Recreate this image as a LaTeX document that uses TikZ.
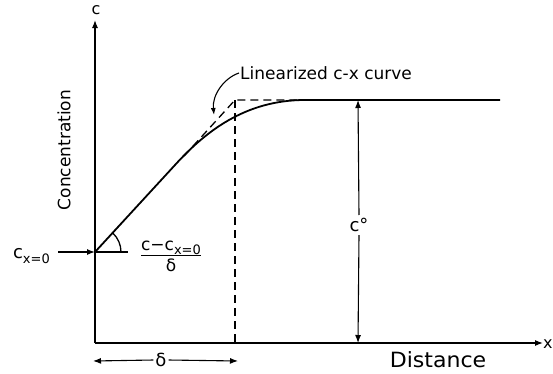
\documentclass[tikz,border=0pt]{standalone}
\usepackage{fontspec}
\setmainfont{DejaVu Sans}
\usetikzlibrary{arrows.meta}
\begin{document}
\begin{tikzpicture}[x=1pt,y=-1pt,
  ln/.style={line width=1.8pt},
  tip/.style={-{Latex[length=8pt,width=6pt]}},
  axis/.style={line width=1.2pt,tip},
  lbl/.style={font=\fontsize{16}{18}\selectfont,inner sep=1pt},
  sub/.style={},
  dsh/.style={line width=1.3pt,dash pattern=on 8pt off 5pt}]
\newcommand{\subxo}{\raisebox{-0.5ex}{\fontsize{13}{14}\selectfont x=0}}
\useasboundingbox (0,0) rectangle (553,373);
\coordinate (O) at (95,343);
\coordinate (ytip) at (95,20);
\coordinate (xtip) at (543,343);
\coordinate (C0) at (95,252);
\coordinate (corner) at (235,100);
\coordinate (cdown) at (235,343);
\coordinate (flatend) at (500,100);
% axes
\draw[axis] (O) -- (ytip);
\draw[axis] (O) -- (xtip);
\node[lbl] (cl) at (96,10) {c};
\node[lbl,anchor=west,inner sep=0pt] (xl) at (543,344) {x};
\node[lbl,rotate=90,font=\fontsize{17}{18}\selectfont] (conc) at (64,150) {Concentration};
\node[lbl,font=\fontsize{21}{22}\selectfont,xscale=1.05] (dist) at (438,360) {Distance};
% c_x=0 arrow
\coordinate (cin) at (58,252);
\draw[line width=1.3pt,tip] (cin) -- (C0);
\node[lbl,anchor=east,font=\fontsize{18}{20}\selectfont] (cx0) at (51,256) {c\subxo};
% concentration curve
\draw[ln] (C0) -- (175,165) .. controls (205,132) and (245,100) .. (305,100) -- (flatend);
% linearized
\draw[dsh] (184,156) -- (corner) -- (300,100);
\draw[dsh] (corner) -- (cdown);
% label linearized
\node[lbl,anchor=west,font=\fontsize{17}{18}\selectfont] (lin) at (239,73) {Linearized c-x curve};
\coordinate (lintip) at (214,115);
\draw[line width=1.1pt,-{Latex[length=7pt,width=5pt]}] (lin.west) .. controls (224,78) and (212,95) .. (lintip);
% angle
\coordinate (hend) at (128,252);
\draw[line width=1.3pt] (C0) -- (hend);
\draw[line width=1.3pt] (121,252) arc[start angle=0,end angle=-47,radius=26];
\node[lbl,font=\fontsize{17}{18}\selectfont] (frac) at (171,257) {$\vcenter{\hbox{\begin{tabular}{@{}c@{}}c−c\subxo\\[-1pt]\hline\rule{0pt}{16pt}δ\end{tabular}}}$};
% c° arrow
\coordinate (ctop) at (358,100);
\coordinate (cbot) at (358,343);
\node[lbl,fill=white,inner sep=3pt,font=\fontsize{18}{20}\selectfont] (cdeg) at (359,225) {c°};
\draw[line width=1.1pt,tip] (cdeg.north) -- (ctop);
\draw[line width=1.1pt,tip] (cdeg.south) -- (cbot);
% delta arrow
\coordinate (dl) at (93,361);
\coordinate (dr) at (238,361);
\node[lbl,fill=white,inner sep=2pt,font=\fontsize{18}{20}\selectfont] (dlt) at (161,360) {δ};
\draw[line width=1.1pt,tip] (dlt.west) -- (dl);
\draw[line width=1.1pt,tip] (dlt.east) -- (dr);
\end{tikzpicture}
\end{document}
